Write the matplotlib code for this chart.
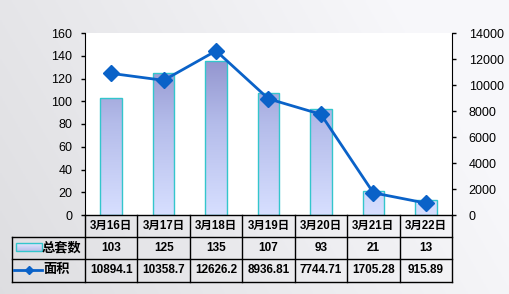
import matplotlib.pyplot as plt
import matplotlib.transforms as mtransforms
from matplotlib.colors import LinearSegmentedColormap
from matplotlib.lines import Line2D
import numpy as np

dates = ['3月16日', '3月17日', '3月18日', '3月19日', '3月20日', '3月21日', '3月22日']
units = [103, 125, 135, 107, 93, 21, 13]
area = [10894.1, 10358.7, 12626.2, 8936.81, 7744.71, 1705.28, 915.89]
area_text = ['10894.1', '10358.7', '12626.2', '8936.81', '7744.71', '1705.28', '915.89']

plt.rcParams['font.family'] = ['Liberation Sans', 'Noto Sans CJK SC', 'DejaVu Sans']

W, H = 509, 294
fig = plt.figure(figsize=(W / 100, H / 100), dpi=100)

# background gradient
bg = fig.add_axes([0, 0, 1, 1], zorder=-10)
yy, xx = np.mgrid[0:1:120j, 0:1:200j]
shade = 0.87 + 0.10 * np.clip(xx * 0.9 + (1 - yy) * 0.3, 0, 1)
bg.imshow(np.dstack([shade, shade, (shade + 0.012)]).clip(0, 1), extent=[0, 1, 0, 1], aspect='auto')
bg.set_axis_off()

line_col = '#0A62C8'
edge_col = '#33C6CC'
bar_cmap = LinearSegmentedColormap.from_list('bar', ['#D7DFFF', '#B4BCEA', '#8585C3'])

ax = fig.add_axes([85 / W, 1 - 215 / H, (452 - 85) / W, (215 - 33) / H])
ax.set_facecolor('white')
x = np.arange(len(dates))
ax.set_xlim(-0.5, len(dates) - 0.5)
ax.set_ylim(0, 160)
ax.set_yticks(range(0, 161, 20))
ax.set_xticks([])
bars = ax.bar(x, units, width=0.41, facecolor='none', edgecolor=edge_col, lw=1, zorder=3)
grad = np.linspace(0, 1, 256).reshape(-1, 1)
for b in bars:
    im = ax.imshow(grad, extent=[b.get_x(), b.get_x() + b.get_width(), 0, 160],
                   cmap=bar_cmap, aspect='auto', origin='lower', zorder=2)
    im.set_clip_path(b)
ax.set_xlim(-0.5, len(dates) - 0.5)
ax.set_ylim(0, 160)
for s in ['top', 'bottom', 'right']:
    ax.spines[s].set_visible(False)
ax.tick_params(axis='y', direction='out', length=3, width=1, labelsize=9, pad=6)

ax2 = ax.twinx()
ax2.plot(x, area, color=line_col, lw=2, marker='D', ms=8, zorder=5)
ax2.set_ylim(0, 14000)
ax2.set_yticks(range(0, 14001, 2000))
for s in ['top', 'bottom', 'left']:
    ax2.spines[s].set_visible(False)
ax2.tick_params(axis='y', direction='out', length=3, width=1, labelsize=9, pad=9)

# data table under the plot
tr = mtransforms.blended_transform_factory(ax.transData, fig.transFigure)
fp = mtransforms.blended_transform_factory(fig.transFigure, fig.transFigure)


def fy(py):
    return 1 - py / H


rows = [215, 236.5, 259, 281.5]
kw = dict(color='black', lw=1, clip_on=False)
fig.add_artist(Line2D([-0.5, 6.5], [fy(rows[0])] * 2, transform=tr, **kw))
for r in rows[1:]:
    fig.add_artist(Line2D([12 / W, 452 / W], [fy(r)] * 2, transform=fp, **kw))
for i in range(len(dates) + 1):
    fig.add_artist(Line2D([i - 0.5] * 2, [fy(rows[0]), fy(rows[3])], transform=tr, **kw))
fig.add_artist(Line2D([12 / W] * 2, [fy(rows[1]), fy(rows[3])], transform=fp, **kw))

tkw = dict(ha='center', va='center', fontweight='bold', color='black')
for i in range(len(dates)):
    fig.text(x[i], fy((rows[0] + rows[1]) / 2), dates[i], transform=tr, fontsize=8.3, **tkw)
    fig.text(x[i], fy((rows[1] + rows[2]) / 2), str(units[i]), transform=tr, fontsize=8.5, **tkw)
    fig.text(x[i], fy((rows[2] + rows[3]) / 2), area_text[i], transform=tr, fontsize=8.5, **tkw)

# legend keys in the table
lg = fig.add_axes([0, 0, 1, 1], zorder=5)
lg.set_xlim(0, W)
lg.set_ylim(H, 0)
lg.set_axis_off()
lg.patch.set_visible(False)
key = lg.bar([29], [8], bottom=[243], width=26, facecolor='none', edgecolor=edge_col, lw=1)[0]
kim = lg.imshow(np.linspace(0, 1, 20).reshape(1, -1).T, extent=[16, 42, 251, 243],
                cmap=LinearSegmentedColormap.from_list('k', ['#E4E8FF', '#B9BEEA']), aspect='auto')
kim.set_clip_path(key)
lg.set_xlim(0, W)
lg.set_ylim(H, 0)
lg.plot([14, 42], [269.5, 269.5], color=line_col, lw=2)
lg.plot([29], [269.5], color=line_col, marker='D', ms=4)
lg.text(81, (rows[1] + rows[2]) / 2, '总套数', ha='right', va='center', fontsize=9.5,
        fontweight='bold', color='black')
lg.text(43, (rows[2] + rows[3]) / 2, '面积', ha='left', va='center', fontsize=9.5,
        fontweight='bold', color='black')

fig.savefig('out.png', dpi=100)
